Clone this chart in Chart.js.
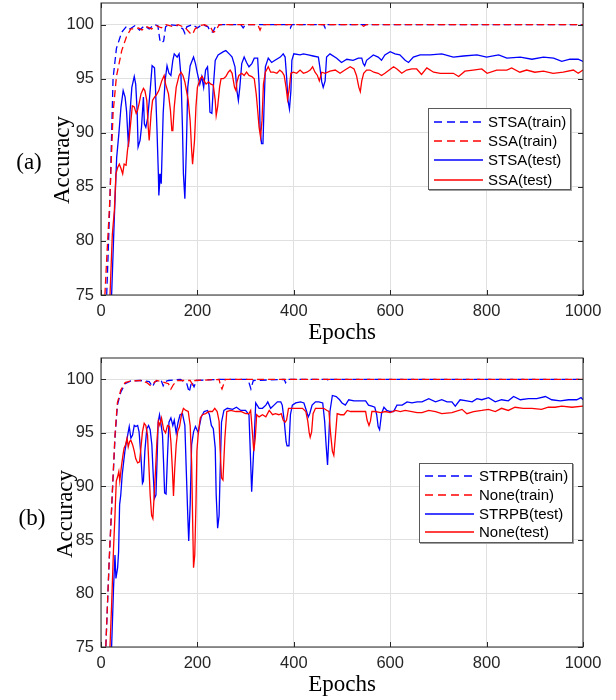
<!DOCTYPE html>
<html><head><meta charset="utf-8">
<script src="https://cdn.jsdelivr.net/npm/chart.js@4.4.0/dist/chart.umd.min.js"></script>
<style>
body{margin:0;background:#fff;}
#wrap{position:relative;width:616px;height:700px;background:#fff;overflow:hidden;}
canvas{position:absolute;left:0;}
.lbl{position:absolute;font-family:'Liberation Serif','Times New Roman',serif;font-size:23px;color:#000;white-space:nowrap;line-height:1;}
.ylab{transform:translate(-50%,-50%) rotate(-90deg);}
.plab{transform:translate(-50%,-50%);}
.legend{position:absolute;background:#fff;border:1px solid #5a5a5a;box-shadow:1px 1px 0 #a0a0a0;font-family:'Liberation Sans',Arial,sans-serif;font-size:15px;color:#000;}
.row{position:absolute;left:0;height:20px;width:100%;}
.row svg{position:absolute;left:5px;top:0;}
.row span{position:absolute;left:59px;top:1px;line-height:18px;white-space:nowrap;}
</style>
</head><body>
<div id="wrap">
  <canvas id="ca" width="616" height="350" style="top:0"></canvas>
  <canvas id="cb" width="616" height="350" style="top:350px"></canvas>
  <div class="lbl plab" style="left:29px;top:161px">(a)</div>
  <div class="lbl ylab" style="left:61px;top:160px">Accuracy</div>
  <div class="lbl plab" style="left:32px;top:517px">(b)</div>
  <div class="lbl ylab" style="left:64px;top:514px">Accuracy</div>
  <div id="lega" class="legend" style="left:428px;top:108px;width:141px;height:80px"></div>
  <div id="legb" class="legend" style="left:419px;top:463px;width:152px;height:78px"></div>
</div>
<script>
// ---------- data: [epoch, accuracy] ----------
const xTicks = [0, 200, 400, 600, 800, 1000];
const yTicks = [75, 80, 85, 90, 95, 100];

const namesA = ['STSA(train)', 'SSA(train)', 'STSA(test)', 'SSA(test)'];
const namesB = ['STRPB(train)', 'None(train)', 'STRPB(test)', 'None(test)'];

const aTrainSTSA = [[11,74],[15,79],[19,84.5],[25,95],[32,97.8],[43,99.3],[53,99.85],[60,99.6],[70,99.9],[80,99.5],[90,99.9],[100,99.6],[110,100],[118,99.9],[122,98.6],[126,98.3],[130,98.5],[134,99.8],[140,100],[160,99.9],[170,99.6],[174,99.2],[178,99.8],[190,100],[200,99.7],[210,100],[222,99.8],[226,99.4],[232,99.3],[238,99.9],[250,100],[290,100],[295,99.7],[300,100],[390,100],[393,99.7],[396,100],[462,100],[465,99.7],[468,100],[1000,100]];

const aTrainSSA = [[7,74],[12,78.5],[18,83.5],[25,91.8],[32,95.2],[43,97.6],[53,98.9],[62,99.6],[70,99.6],[78,99.7],[85,99.5],[95,99.8],[105,99.6],[115,99.9],[125,99.7],[135,100],[150,99.8],[160,100],[175,99.7],[185,99.2],[190,99.1],[195,99.6],[205,99.9],[215,100],[228,99.7],[233,99.3],[238,99.4],[245,100],[325,100],[330,99.5],[335,100],[540,100],[545,99.85],[550,100],[1000,100]];

const aTestSTSA = [[20,72],[22,75],[27.7,82.2],[32.5,87.7],[37,89.9],[41.5,92.4],[46,93.9],[50,93.3],[53,92],[57,88.7],[60,91.8],[64,94.2],[69,95.2],[72,94.5],[75,92],[77,88.7],[81,89.3],[84,90.5],[88,93.3],[90,90.8],[93,90.5],[97,91.4],[102,93.9],[106,96.2],[111,96],[113,94.2],[116,90.5],[119,86.2],[120,84.2],[123,86.2],[125,85.3],[129,91.8],[133,94.8],[137,96.2],[141,95.5],[145,95.3],[149,96.7],[152,97.3],[158,97],[162,97.3],[166,95.2],[169,90.5],[171,86.2],[174,83.9],[177,88.4],[180,94.2],[185,96.2],[192,97],[196,96.4],[200,95.5],[205,94.5],[209,95.2],[213,94.2],[217,95.8],[221,96.1],[224,94.2],[226,91.9],[230,91.8],[233,94.2],[237,96.7],[243,97.2],[254,97.5],[259,97.6],[268,97.2],[272,97],[278,96.1],[282,93.9],[285,93],[288,94.2],[292,96.4],[297,97],[302,96.5],[307,96.1],[313,96.4],[318,96.9],[325,96.9],[328,94.5],[330,90.5],[333,89],[336,89],[338,92],[341,96.1],[347,96.9],[354,96.5],[361,96.7],[372,97],[378,97.3],[382,97],[385,95.2],[388,93],[391,92.2],[394,93.9],[396,96.7],[400,97.3],[413,97.2],[420,97.3],[430,97.2],[440,97.1],[451,97],[454,96.1],[458,94.7],[461,94.2],[465,94.8],[468,97],[475,97.3],[489,96.9],[499,96.5],[510,96.8],[523,96.7],[534,96.9],[541,96.9],[544,96.4],[547,96.2],[551,96.7],[565,97.2],[575,97],[582,96.7],[589,97.2],[600,97.5],[610,97.3],[620,97.2],[631,96.7],[638,96.5],[648,97],[662,97.2],[683,97.2],[707,97.3],[731,97],[752,97.1],[780,97.2],[800,97],[825,97.2],[842,96.9],[870,97],[894,96.8],[918,97],[939,96.9],[956,96.6],[973,96.8],[990,96.8],[1000,96.6]];

const aTestSSA = [[16,72],[18.7,75],[23.5,80.6],[27.7,82.8],[31,86.2],[34.6,86.8],[38,87.1],[41.5,86.7],[45,86.2],[48,87.1],[52,87],[55,88.4],[58,89.3],[62,91.1],[65,92.5],[69,92.4],[73,91.8],[76,92.1],[79,92.7],[83,93.6],[88,94.1],[91,93.9],[95,93],[98,90.5],[100,89.3],[104,91.8],[107,93],[111,93.3],[115,93.5],[120,93.9],[126,94.8],[131,95.3],[134,94.5],[140,93.6],[144,92.1],[147,90.2],[149,90.2],[152,92.4],[156,94.2],[162,95.3],[166,95.6],[170,95.3],[174,94.7],[181,93],[185,91.1],[188,88.4],[190,87.1],[194,89.3],[197,92.4],[200,94.2],[206,95],[210,95.2],[214,94.8],[218,94.5],[223,94.7],[228,94.5],[233,94.4],[237,93],[239,91.6],[242,92.4],[246,94.2],[249,95],[254,95],[259,95.2],[264,95.6],[268,95.8],[272,95.5],[277,94.2],[280,93.9],[282,94.7],[286,95.3],[292,95.5],[297,95.3],[302,95.6],[307,95.3],[313,95.2],[318,95],[322,93.6],[325,92.1],[328,90.5],[331,89.6],[334,91.1],[337,94.5],[341,95.6],[347,96.1],[352,95.6],[358,95.6],[365,95.5],[371,95.8],[376,95.6],[380,95.3],[384,94.2],[387,93.1],[390,93.9],[394,95.5],[399,95.6],[406,95.5],[413,95.8],[420,95.5],[427,95.6],[434,95.8],[439,96.1],[444,95.6],[449,95.3],[453,94.8],[458,95.6],[465,95.5],[475,95.7],[486,95.8],[496,95.5],[506,95.8],[517,96.1],[525,95.9],[530,95.3],[535,94.2],[538,93.8],[541,94.8],[545,95.5],[551,95.8],[558,95.8],[566,95.6],[575,95.5],[582,95.3],[589,95.5],[598,95.8],[607,96.1],[614,95.9],[624,95.5],[634,95.8],[645,95.9],[655,95.9],[665,95.4],[676,96],[690,95.6],[704,95.5],[717,95.5],[731,95.5],[742,95.2],[755,95.7],[772,95.8],[790,95.9],[801,95.5],[821,95.8],[842,95.8],[852,96],[869,95.6],[883,95.8],[900,95.6],[918,95.7],[938,95.5],[959,95.6],[980,95.8],[990,95.5],[1000,95.8]];

const bTrainSTRPB = [[9,73],[10,75],[17,83],[24,89.8],[29,94.5],[34,97.6],[41,98.8],[50,99.6],[62,99.85],[80,99.9],[100,99.8],[107,99.3],[112,99.8],[125,99.9],[129,99.4],[133,99.8],[140,99.9],[165,100],[178,99.6],[183,98.8],[188,99.8],[193,99.3],[198,99.9],[240,100],[305,100],[311,99.1],[316,99.9],[380,100],[383,99.7],[386,100],[470,100],[473,99.8],[476,100],[1000,100]];

const bTrainNone = [[9,73],[10,75],[17,83.2],[24,90],[29,94.8],[34,97.8],[41,99],[50,99.7],[62,99.85],[85,99.9],[95,99.7],[103,99.4],[108,99.6],[115,99.9],[125,99.8],[140,99.6],[145,99.1],[150,99.5],[158,99.9],[185,99.9],[190,99.5],[195,99.9],[245,100],[248,99.4],[251,99.1],[254,99.5],[258,100],[1000,100]];

const bTestSTRPB = [[20,72],[22,75],[26,80.5],[29,83.6],[31,81.4],[34.5,82.4],[36.5,83.9],[38.6,88.3],[41,89.2],[44,91.1],[47,92.3],[49.6,93.3],[53,94.2],[55,94.7],[58.6,95.6],[62,94.5],[65.5,94.8],[69,95.7],[72.4,95.6],[76,95.7],[79,95.1],[82.8,92.9],[86,90.3],[88,90.5],[91,93.3],[95,95.4],[98.7,95.7],[102,95.3],[105.5,93.9],[108,91.4],[111,88.9],[114,89.2],[116,92],[118.6,96],[121.4,96.7],[124,96],[127.6,94.8],[130,92],[132,89.4],[135,89.3],[138,92.9],[141,96],[145,96.4],[149,95.7],[152,96.2],[156,95],[160,96],[164,96.7],[169,96.8],[174,95.7],[177,91.4],[180,87.3],[182,84.9],[185,88.3],[188,93.9],[192,95.1],[196,95.6],[199,95.3],[202,95],[204,95.6],[208,96.5],[214,97],[221,97.1],[225,96.7],[229,95.7],[233,95.4],[237,93.6],[239,89.2],[242,86.1],[245,87.3],[247,91.1],[250,96],[255,97.1],[262,97.3],[273,97.2],[281,97.4],[290,97.1],[300,97.1],[307,96.7],[310,92.9],[312.6,89.5],[317,93.6],[321,97.8],[328,97.3],[335,97.3],[342,97.6],[346,97.9],[352,97.3],[359,97.6],[366,97.9],[373,97.9],[376,97.6],[380,96.2],[384,94.2],[386,93.8],[390,93.8],[393,96.7],[397,97.6],[404,97.8],[414,97.9],[421,97.8],[426,97.1],[430,96.5],[433,96.8],[438,97.6],[445,97.9],[452,97.9],[460,97.8],[464,96.1],[467,93.9],[470,92],[472,93.9],[475,97],[480,98.5],[488,98.4],[495,98.1],[500,97.8],[507,97.6],[514,98.1],[525,98],[535,98],[549,98],[555,97.6],[562,97.5],[568,97.4],[572,96.7],[575,95.6],[578,95.3],[582,96.8],[587,97.4],[593,97.1],[600,97],[607,97],[614,97.6],[625,97.6],[635,97.9],[645,97.8],[656,97.9],[666,97.9],[680,98.2],[694,97.9],[707,98.1],[718,97.9],[728,97.9],[735,97.5],[745,98.1],[759,98],[770,97.9],[780,98.2],[790,98.1],[804,98.3],[818,97.9],[831,98.1],[845,98],[856,98.4],[870,98.1],[887,98.2],[904,98.2],[922,98.4],[935,98.1],[953,98],[970,98.1],[987,98.1],[996,98.3],[1000,98.1]];

const bTestNone = [[16,72],[18.6,75],[22,78.9],[26,84.2],[29,87.3],[31.7,90.5],[34.4,90.9],[37,91.4],[39,90.5],[42.7,92],[45.5,92.9],[48,93.6],[51,93.9],[54,94.5],[56.5,93.7],[59.3,94.2],[62,94.3],[65.5,93.9],[69,93.3],[72,92.6],[76,92.2],[80,92.3],[82.8,93.6],[86,95.1],[89.6,95.9],[93,95.7],[96.5,94.8],[99,92.3],[102,89.2],[105,87.3],[107.6,87],[110,88.9],[113,91.4],[116,94.2],[119,96.1],[122,95.7],[125.5,96.4],[130,95.3],[134,95],[138,95.7],[142,95.6],[145,94.2],[148,91.7],[150.4,89.1],[153,91.7],[156,93.9],[159,95.1],[163,95.6],[167,96.7],[171,97.3],[176,97.1],[181,97],[185,95.7],[188,92.3],[190.4,86.1],[192,82.4],[194.5,83.6],[197,88.3],[199,93.3],[202,95.1],[206,96.4],[210.4,96.7],[217,96.8],[224,97],[231,97],[236,97.3],[241,97],[245,96.1],[247,93.6],[250,90.8],[253,90.6],[257,94.5],[261,97],[269,97.1],[280,97],[290,97],[300,96.8],[307,96.8],[310.5,97.1],[314,95.1],[317,93.3],[320,94.5],[323,96.7],[328,96.5],[335,96.7],[342,96.5],[349,97.1],[356,96.7],[362,96.8],[369,96.7],[374,96.8],[378,96.2],[382,96],[385,96.2],[389,97.3],[397,97.3],[407,97.3],[418,97.3],[425,97],[429,96.1],[432,95],[434,94.6],[437,95.1],[440,96.8],[445,97.3],[452,97.3],[462,97.3],[469,97.1],[473,97],[476,95.1],[480,93.3],[483,92.9],[486,94.5],[490,96.8],[497,96.7],[504,96.7],[511,97.1],[518,97],[528,97],[542,97],[549,97],[552,96.2],[556,95.7],[559,96.1],[562,97],[569,97],[580,96.9],[590,97],[600,96.9],[611,97.1],[621,97],[631,97.1],[645,97],[656,96.9],[666,96.9],[680,97.1],[694,97],[707,96.8],[728,96.9],[749,97.2],[759,96.8],[773,97],[790,97.1],[804,97.2],[818,97],[831,97.3],[845,97.1],[859,97.4],[876,97.3],[894,97.3],[914,97.2],[928,97.4],[942,97.4],[956,97.5],[977,97.4],[1000,97.5]];

// ---------- styles ----------
const BLUE = '#0000ff', RED = '#ff0000';
const seriesStyle = [
  {color: BLUE, dash: [7, 4]},
  {color: RED,  dash: [7, 4]},
  {color: BLUE, dash: []},
  {color: RED,  dash: []}
];

const boxPlugin = {
  id: 'matlabBox',
  afterDraw(chart) {
    const {ctx, chartArea: a, scales} = chart;
    ctx.save();
    ctx.strokeStyle = '#262626';
    ctx.lineWidth = 1;
    ctx.strokeRect(a.left, a.top, a.right - a.left, a.bottom - a.top);
    const L = 5;
    ctx.beginPath();
    scales.x.ticks.forEach(t => {
      const px = Math.round(scales.x.getPixelForValue(t.value)) + 0.5;
      ctx.moveTo(px, a.bottom); ctx.lineTo(px, a.bottom - L);
      ctx.moveTo(px, a.top); ctx.lineTo(px, a.top + L);
    });
    scales.y.ticks.forEach(t => {
      const py = Math.round(scales.y.getPixelForValue(t.value)) + 0.5;
      ctx.moveTo(a.left, py); ctx.lineTo(a.left + L, py);
      ctx.moveTo(a.right, py); ctx.lineTo(a.right - L, py);
    });
    ctx.stroke();
    ctx.restore();
  }
};

function makePanel(id, names, seriesList, padTop, xAxisH, titlePadB) {
  const datasets = seriesList.map((s, i) => ({
    label: names[i],
    data: s.map(p => ({x: p[0], y: p[1]})),
    borderColor: seriesStyle[i].color,
    borderDash: seriesStyle[i].dash,
    borderWidth: 1.3,
    pointRadius: 0,
    tension: 0,
    fill: false,
    order: 4 - i
  }));
  const tickFont = {family: "'Liberation Sans', Arial, sans-serif", size: 16.5};
  return new Chart(document.getElementById(id), {
    type: 'line',
    data: {datasets},
    options: {
      responsive: false,
      animation: false,
      events: [],
      layout: {padding: {left: 0, right: 33, top: padTop, bottom: 0}},
      plugins: {legend: {display: false}, tooltip: {enabled: false}},
      scales: {
        x: {
          type: 'linear', min: xTicks[0], max: xTicks[xTicks.length - 1],
          afterBuildTicks: s => { s.ticks = xTicks.map(v => ({value: v})); },
          ticks: {color: '#262626', font: tickFont, padding: 7, maxRotation: 0, autoSkip: false,
                  callback: v => String(v)},
          grid: {color: '#e0e0e0', drawTicks: false, lineWidth: 1},
          border: {display: false},
          title: {display: true, text: 'Epochs', color: '#000',
                  font: {family: "'Liberation Serif', 'Times New Roman', serif", size: 23},
                  padding: {top: 0, bottom: titlePadB}},
          afterFit: s => { s.height = xAxisH; s.paddingLeft = 0; s.paddingRight = 0; }
        },
        y: {
          type: 'linear', min: 75, max: 102,
          afterBuildTicks: s => { s.ticks = yTicks.map(v => ({value: v})); },
          ticks: {color: '#262626', font: tickFont, padding: 7, callback: v => String(v)},
          grid: {color: '#e0e0e0', drawTicks: false, lineWidth: 1},
          border: {display: false},
          afterFit: s => { s.width = 101; s.paddingTop = 0; s.paddingBottom = 0; }
        }
      }
    },
    plugins: [boxPlugin]
  });
}

makePanel('ca', namesA, [aTrainSTSA, aTrainSSA, aTestSTSA, aTestSSA], 3, 55, 3);
makePanel('cb', namesB, [bTrainSTRPB, bTrainNone, bTestSTRPB, bTestNone], 8, 53, 1);

// ---------- legends ----------
function buildLegend(elId, names, rowTops) {
  const el = document.getElementById(elId);
  names.forEach((n, i) => {
    const st = seriesStyle[i];
    const row = document.createElement('div');
    row.className = 'row';
    row.style.top = rowTops[i] + 'px';
    const dash = st.dash.length ? 'stroke-dasharray="8 5"' : '';
    const len = st.dash.length ? 47 : 49;
    row.innerHTML = '<svg width="50" height="20"><line x1="0" y1="10" x2="' + len + '" y2="10" stroke="' + st.color + '" stroke-width="1.3" ' + dash + '/></svg><span>' + n + '</span>';
    el.appendChild(row);
  });
}
buildLegend('lega', namesA, [3, 22, 41, 61]);
buildLegend('legb', namesB, [2, 21, 40, 58]);
</script>
</body></html>
